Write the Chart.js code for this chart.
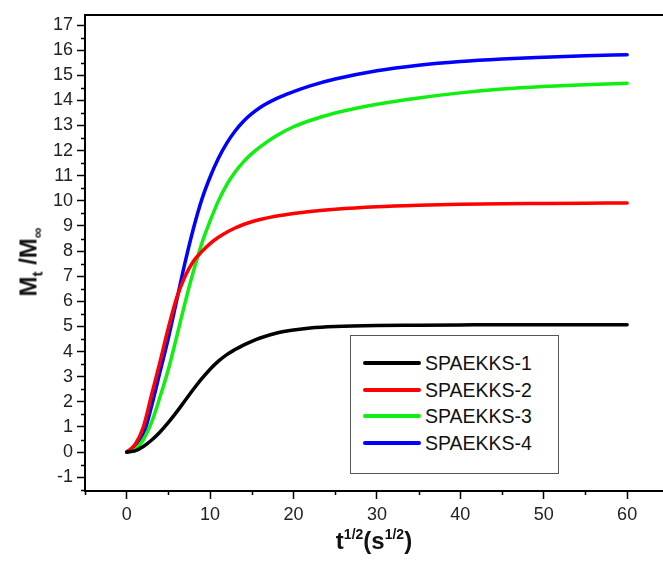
<!DOCTYPE html>
<html>
<head>
<meta charset="utf-8">
<script src="https://cdn.jsdelivr.net/npm/chart.js@4"></script>
<style>
  html, body { margin: 0; padding: 0; background: #fff; }
  #wrap { position: relative; width: 663px; height: 565px; overflow: hidden; font-family: "Liberation Sans", Arial, sans-serif; }
  #c { position: absolute; left: 0; top: 0; }
  #legend { position: absolute; left: 350px; top: 335px; width: 209px; height: 139px; border: 1px solid #555; background: #fff; box-sizing: border-box; padding-top: 14px; }
  .item { position: relative; height: 26.7px; }
  .swatch { position: absolute; left: 12px; top: 11px; width: 58px; height: 4px; border-radius: 2px; }
  .lab { position: absolute; left: 74px; top: 0; font-size: 19.5px; line-height: 26px; color: #111; }
  #xtitle { position: absolute; left: 0; width: 748px; top: 526px; text-align: center; font-weight: bold; font-size: 24px; color: #111; }
  #xtitle sup { font-size: 14px; vertical-align: 10px; }
  #ytitle { position: absolute; left: 30px; top: 262px; transform: translate(-50%, -50%) rotate(-90deg); white-space: nowrap; font-weight: bold; font-size: 24px; color: #111; }
  #ytitle sub { font-size: 15px; vertical-align: -6px; }
</style>
</head>
<body>
<div id="wrap">
  <canvas id="c" width="663" height="565"></canvas>
  <div id="ytitle">M<sub>t</sub> /M<sub>∞</sub></div>
  <div id="xtitle">t<sup>1/2</sup>(s<sup>1/2</sup>)</div>
  <div id="legend"></div>
</div>
<script>
// ---- data ----
const xValues = [0,1,2,3,4,5,6,7,8,9,10,11,12,13,14,15,16,18,20,22,25,30,35,40,45,50,55,60];
const seriesNames = ["SPAEKKS-1","SPAEKKS-2","SPAEKKS-3","SPAEKKS-4"];
const spaekks1 = [0,0.05,0.22,0.48,0.8,1.18,1.6,2.05,2.5,2.92,3.3,3.62,3.88,4.08,4.26,4.41,4.54,4.74,4.86,4.94,5.0,5.04,5.05,5.06,5.07,5.07,5.07,5.07];
const spaekks2 = [0,0.3,1.0,2.3,3.6,4.95,6.15,7.0,7.6,7.98,8.3,8.55,8.75,8.92,9.06,9.17,9.26,9.4,9.5,9.58,9.67,9.77,9.83,9.87,9.89,9.9,9.91,9.92];
const spaekks3 = [0,0.1,0.5,1.2,2.2,3.3,4.6,5.95,7.2,8.3,9.2,10.0,10.65,11.15,11.55,11.88,12.15,12.6,12.95,13.2,13.5,13.85,14.1,14.3,14.45,14.55,14.62,14.68];
const spaekks4 = [0,0.2,0.7,1.85,3.2,4.55,6.05,7.55,8.9,10.05,10.95,11.7,12.3,12.78,13.17,13.47,13.72,14.08,14.35,14.58,14.85,15.18,15.4,15.55,15.65,15.72,15.78,15.82];
const yTickValues = [-1,0,1,2,3,4,5,6,7,8,9,10,11,12,13,14,15,16,17];
const xTickValues = [0,10,20,30,40,50,60];

const colors = ["#000000","#ff0000","#11ee11","#0000ff"];
const allSeries = [spaekks1, spaekks2, spaekks3, spaekks4];

const datasets = allSeries.map((s, i) => ({
  label: seriesNames[i],
  data: xValues.map((x, j) => ({x: x, y: s[j]})),
  borderColor: colors[i],
  backgroundColor: colors[i],
  borderWidth: 3.5,
  borderCapStyle: 'round',
  borderJoinStyle: 'round',
  pointRadius: 0,
  cubicInterpolationMode: 'monotone',
  fill: false
}));

// minor ticks + top frame
const decor = {
  id: 'decor',
  afterDraw(chart) {
    const ctx = chart.ctx, a = chart.chartArea;
    const xs = chart.scales.x, ys = chart.scales.y;
    ctx.save();
    ctx.strokeStyle = '#000';
    ctx.lineWidth = 1.5;
    ctx.beginPath();
    for (let v = -1.5; v <= 17.01; v += 1) {
      const p = Math.round(ys.getPixelForValue(v)) + 0.5;
      ctx.moveTo(a.left - 4, p); ctx.lineTo(a.left, p);
    }
    for (let v = -5; v <= 64; v += 10) {
      const p = Math.round(xs.getPixelForValue(v)) + 0.5;
      ctx.moveTo(p, a.bottom); ctx.lineTo(p, a.bottom + 4);
    }
    ctx.stroke();
    ctx.lineWidth = 2;
    ctx.beginPath();
    ctx.moveTo(a.left, a.top); ctx.lineTo(a.right, a.top);
    ctx.stroke();
    ctx.restore();
  }
};

const chart = new Chart(document.getElementById('c'), {
  type: 'line',
  data: { datasets },
  options: {
    responsive: false,
    animation: false,
    layout: { padding: { left: 0, top: 15, right: 0, bottom: 0 } },
    plugins: { legend: { display: false }, tooltip: { enabled: false } },
    scales: {
      x: {
        type: 'linear', min: -5, max: 64.3,
        afterBuildTicks: s => { s.ticks = xTickValues.map(v => ({value: v})); },
        afterFit: s => { s.height = 74; },
        grid: { drawOnChartArea: false, drawTicks: true, tickLength: 8, tickWidth: 1.5, tickColor: '#000' },
        border: { display: true, color: '#000', width: 2 },
        ticks: { color: '#222', font: { family: 'Liberation Sans', size: 18 }, padding: 5, maxRotation: 0 }
      },
      y: {
        type: 'linear', min: -1.55, max: 17.4,
        afterBuildTicks: s => { s.ticks = yTickValues.map(v => ({value: v})); },
        afterFit: s => { s.width = 85; },
        grid: { drawOnChartArea: false, drawTicks: true, tickLength: 8, tickWidth: 1.5, tickColor: '#000' },
        border: { display: true, color: '#000', width: 2 },
        ticks: { color: '#222', font: { family: 'Liberation Sans', size: 18 }, padding: 4 }
      }
    }
  },
  plugins: [decor]
});

// HTML legend built from the datasets
const leg = document.getElementById('legend');
chart.data.datasets.forEach(d => {
  const it = document.createElement('div'); it.className = 'item';
  const sw = document.createElement('div'); sw.className = 'swatch'; sw.style.background = d.borderColor;
  const lb = document.createElement('div'); lb.className = 'lab'; lb.textContent = d.label;
  it.appendChild(sw); it.appendChild(lb); leg.appendChild(it);
});
</script>
</body>
</html>
